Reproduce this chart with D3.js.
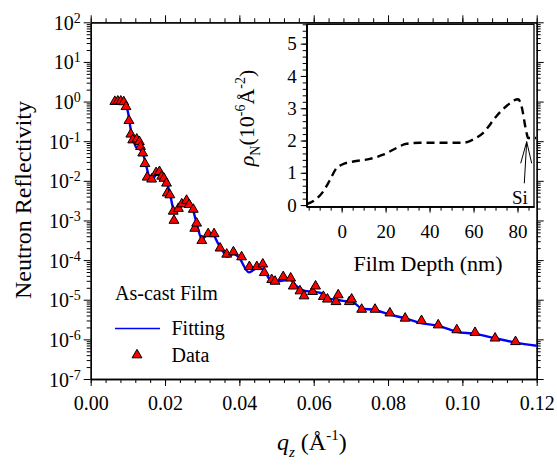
<!DOCTYPE html>
<html lang="en">
<head>
<meta charset="UTF-8">
<title>Neutron Reflectivity</title>
<script src="https://d3js.org/d3.v7.min.js"></script>
</head>
<body style="margin:0;background:#fff">
<svg width="557" height="465"></svg>
<script>
// measured data (q in 1/A, reflectivity)
const dataQ = [0.0065, 0.0073, 0.0081, 0.0089, 0.0095, 0.0103, 0.0108, 0.0113, 0.0124, 0.0131,
               0.0134, 0.0140, 0.0146, 0.0152, 0.0164, 0.0176, 0.0185, 0.0191, 0.0197, 0.0204,
               0.0206, 0.0213, 0.0222, 0.0224, 0.0236, 0.0245, 0.0258, 0.0265, 0.0276, 0.0280,
               0.0285, 0.0299, 0.0316, 0.0332, 0.0348, 0.0366, 0.0384, 0.0406, 0.0427, 0.0447,
               0.0463, 0.0467, 0.0487, 0.0496, 0.0518, 0.0538, 0.0545, 0.0563, 0.0574, 0.0597,
               0.0605, 0.0626, 0.0637, 0.0660, 0.0666, 0.0696, 0.0702, 0.0729, 0.0765, 0.0805,
               0.0846, 0.0890, 0.0935, 0.0985, 0.1034, 0.1088, 0.1143];
const dataR = [1.0, 1.02, 1.02, 0.98, 0.74, 0.33, 0.15, 0.107, 0.112, 0.097,
               0.073, 0.050, 0.027, 0.0123, 0.011, 0.016, 0.017, 0.013, 0.0115, 0.0087,
               0.0049, 0.0044, 0.0017, 0.0010, 0.0020, 0.0026, 0.0032, 0.0025, 0.0019, 0.00063,
               0.00085, 0.00031, 0.00046, 0.00046, 0.0002, 0.00014, 0.00016, 0.00012, 6.8e-5, 6.8e-5,
               7.9e-5, 4.8e-5, 3.2e-5, 2.9e-5, 3.8e-5, 3.5e-5, 2.2e-5, 1.66e-5, 1.24e-5, 1.6e-5,
               2.2e-5, 1.2e-5, 1.03e-5, 8.9e-6, 1.32e-5, 8.9e-6, 1.03e-5, 5.7e-6, 5.7e-6, 4.6e-6,
               3.4e-6, 2.95e-6, 2.3e-6, 1.73e-6, 1.48e-6, 1.07e-6, 8.7e-7];

// fitted curve
const fitQ = [0.0065, 0.0092, 0.0101, 0.0108, 0.0115, 0.0122, 0.0131, 0.0140, 0.0149, 0.0158,
              0.0167, 0.0179, 0.0191, 0.0204, 0.0213, 0.0222, 0.0230, 0.0242, 0.0258, 0.0272,
              0.0285, 0.0299, 0.0312, 0.0330, 0.0343, 0.0357, 0.0368, 0.0384, 0.0397, 0.0426,
              0.0447, 0.0464, 0.0482, 0.0496, 0.0514, 0.0536, 0.0554, 0.0574, 0.0595, 0.0617,
              0.0644, 0.0662, 0.0693, 0.0707, 0.0729, 0.0765, 0.0805, 0.0846, 0.0886, 0.0935,
              0.0985, 0.1034, 0.1088, 0.1144, 0.1200];
const fitR = [0.95, 0.91, 0.50, 0.19, 0.107, 0.071, 0.063, 0.050, 0.025, 0.0123,
              0.011, 0.016, 0.0155, 0.0095, 0.0049, 0.0020, 0.0016, 0.0022, 0.0027, 0.0022,
              0.00085, 0.00034, 0.00041, 0.00041, 0.00026, 0.00016, 0.000122, 0.000142, 0.000122, 4.9e-5,
              6.2e-5, 5.9e-5, 3.2e-5, 2.9e-5, 3.0e-5, 3.2e-5, 2.2e-5, 1.7e-5, 1.6e-5, 1.5e-5,
              1.05e-5, 1.0e-5, 8.9e-6, 8.5e-6, 6.0e-6, 5.5e-6, 4.2e-6, 3.4e-6, 2.6e-6, 2.2e-6,
              1.55e-6, 1.38e-6, 1.07e-6, 8.3e-7, 6.9e-7];

// SLD profile for the inset
const depth = [-15.9, -12.1, -8.4, -5.3, -2.3, 0, 5.3, 12.9, 18.9, 25,
               29.5, 35.6, 55.3, 59.8, 64.4, 70.5, 75, 80.3, 81.8, 84.1, 84.8, 88.5];
const rho = [0.03, 0.16, 0.42, 0.78, 1.15, 1.25, 1.35, 1.43, 1.56, 1.77,
             1.9, 1.93, 1.93, 2.03, 2.24, 2.76, 3.07, 3.28, 3.07, 2.24, 2.08, 2.08];

const xTicks = [0, 0.02, 0.04, 0.06, 0.08, 0.10, 0.12];
const yExponents = [-7, -6, -5, -4, -3, -2, -1, 0, 1, 2];
const insetXTicks = [0, 20, 40, 60, 80];
const insetYTicks = [0, 1, 2, 3, 4, 5];

const FONT = "Liberation Serif";

const svg = d3.select("svg");
const L = 90.7, R = 536.7, T = 22.3, B = 379;

const x = d3.scaleLinear().domain([0, 0.12]).range([L, R]);
const y = d3.scaleLog().domain([1e-7, 1e2]).range([B, T]);

// minor tick values
const xMinor = d3.range(0, 0.1201, 0.004);
const yMinor = [];
yExponents.slice(0, -1).forEach(e => {
    for (let k = 2; k <= 9; k++) yMinor.push(k * Math.pow(10, e));
});
const yMajor = yExponents.map(e => Math.pow(10, e));

function styleAxis(g) {
    g.attr("font-family", FONT);
    g.select(".domain").attr("stroke", "#000").attr("stroke-width", 1.3);
    g.selectAll(".tick line").attr("stroke", "#000").attr("stroke-width", 1);
    g.selectAll("text").attr("font-family", FONT).attr("fill", "#000");
}

// adds a text element in the chart font
function label(xp, yp, size) {
    return svg.append("text").attr("x", xp).attr("y", yp)
              .attr("font-family", FONT).attr("font-size", size).attr("fill", "#000");
}

// bottom
svg.append("g").attr("transform", `translate(0,${B})`)
   .call(d3.axisBottom(x).tickValues(xMinor).tickSize(4).tickFormat("").tickSizeOuter(0))
   .call(styleAxis);
svg.append("g").attr("transform", `translate(0,${B})`)
   .call(d3.axisBottom(x).tickValues(xTicks).tickSize(7).tickPadding(10).tickSizeOuter(0)
         .tickFormat(d3.format(".2f")))
   .call(styleAxis)
   .call(g => g.selectAll("text").attr("font-size", 20));
// top
svg.append("g").attr("transform", `translate(0,${T})`)
   .call(d3.axisTop(x).tickValues(xMinor).tickSize(4).tickFormat("").tickSizeOuter(0))
   .call(styleAxis);
svg.append("g").attr("transform", `translate(0,${T})`)
   .call(d3.axisTop(x).tickValues(xTicks).tickSize(7).tickFormat("").tickSizeOuter(0))
   .call(styleAxis);

// left
svg.append("g").attr("transform", `translate(${L},0)`)
   .call(d3.axisLeft(y).tickValues(yMinor).tickSize(4).tickFormat("").tickSizeOuter(0))
   .call(styleAxis);
const yAx = svg.append("g").attr("transform", `translate(${L},0)`)
   .call(d3.axisLeft(y).tickValues(yMajor).tickSize(7).tickPadding(3).tickSizeOuter(0).tickFormat(""))
   .call(styleAxis);
yAx.selectAll(".tick text").each(function(d) {
    const t = d3.select(this).attr("dy", "0.35em").attr("font-size", 20);
    t.append("tspan").text("10");
    t.append("tspan").attr("dy", "-0.5em").attr("font-size", 14).text(Math.round(Math.log10(d)));
});
// right
svg.append("g").attr("transform", `translate(${R},0)`)
   .call(d3.axisRight(y).tickValues(yMinor).tickSize(4).tickFormat("").tickSizeOuter(0))
   .call(styleAxis);
svg.append("g").attr("transform", `translate(${R},0)`)
   .call(d3.axisRight(y).tickValues(yMajor).tickSize(7).tickFormat("").tickSizeOuter(0))
   .call(styleAxis);

// fitted line
const fit = fitQ.map((q, i) => ({ q, r: fitR[i] }));
svg.append("path")
   .datum(fit)
   .attr("fill", "none")
   .attr("stroke", "#0000ff")
   .attr("stroke-width", 2.4)
   .attr("d", d3.line().x(d => x(d.q)).y(d => y(d.r)).curve(d3.curveMonotoneX));

// data triangles
const tri = d3.symbol().type(d3.symbolTriangle).size(42);
const pts = dataQ.map((q, i) => ({ q, r: dataR[i] }));
svg.append("g").selectAll("path")
   .data(pts)
   .join("path")
   .attr("transform", d => `translate(${x(d.q)},${y(d.r)})`)
   .attr("d", tri)
   .attr("fill", "#ff0000")
   .attr("stroke", "#000")
   .attr("stroke-width", 1);

// axis titles
label(0, 0, 24)
   .attr("transform", "translate(31,200) rotate(-90)")
   .attr("text-anchor", "middle")
   .text("Neutron Reflectivity");

const xt = label(277, 450, 24);
xt.append("tspan").attr("font-style", "italic").text("q");
xt.append("tspan").attr("dy", 7).attr("font-style", "italic").attr("font-size", 15).text("z");
xt.append("tspan").attr("dy", -7).text(" (Å");
xt.append("tspan").attr("dy", -10).attr("font-size", 15).text("-1");
xt.append("tspan").attr("dy", 10).text(")");

// legend
label(115, 300, 20).text("As-cast Film");
svg.append("line").attr("x1", 115).attr("x2", 160).attr("y1", 328.5).attr("y2", 328.5)
   .attr("stroke", "#0000ff").attr("stroke-width", 1.5);
label(171.5, 335, 20).text("Fitting");
svg.append("path").attr("transform", "translate(137,355)").attr("d", tri)
   .attr("fill", "#ff0000").attr("stroke", "#000").attr("stroke-width", 1);
label(171.5, 361.5, 20).text("Data");

// ---- inset ----
const iL = 306.7, iR = 534, iT = 24.3, iB = 206.7;
const ix = d3.scaleLinear().domain([-15.9, 87.5]).range([iL, iR]);
const iy = d3.scaleLinear().domain([-0.05, 5.6]).range([iB, iT]);

svg.append("rect").attr("x", iL).attr("y", iT).attr("width", iR - iL).attr("height", iB - iT)
   .attr("fill", "#fff").attr("stroke", "#000").attr("stroke-width", 1.3);

svg.append("g").attr("transform", `translate(0,${iB})`)
   .call(d3.axisBottom(ix).tickValues(d3.range(-15, 86, 5)).tickSize(4).tickFormat("").tickSizeOuter(0))
   .call(styleAxis);
svg.append("g").attr("transform", `translate(0,${iB})`)
   .call(d3.axisBottom(ix).tickValues(insetXTicks).tickSize(6).tickPadding(12).tickSizeOuter(0)
         .tickFormat(d3.format("d")))
   .call(styleAxis)
   .call(g => g.selectAll("text").attr("font-size", 19));
svg.append("g").attr("transform", `translate(${iL},0)`)
   .call(d3.axisLeft(iy).tickValues(d3.range(0, 5.61, 0.2)).tickSize(4).tickFormat("").tickSizeOuter(0))
   .call(styleAxis);
svg.append("g").attr("transform", `translate(${iL},0)`)
   .call(d3.axisLeft(iy).tickValues(insetYTicks).tickSize(6).tickPadding(4).tickSizeOuter(0)
         .tickFormat(d3.format("d")))
   .call(styleAxis)
   .call(g => g.selectAll("text").attr("font-size", 19));

const prof = depth.map((d, i) => ({ d, r: rho[i] }));
svg.append("path")
   .datum(prof)
   .attr("fill", "none")
   .attr("stroke", "#000")
   .attr("stroke-width", 2.4)
   .attr("stroke-dasharray", "8,5")
   .attr("d", d3.line().x(d => ix(d.d)).y(d => iy(d.r)).curve(d3.curveMonotoneX));

// Si annotation with open arrow
label(512, 204, 19).text("Si");
svg.append("path")
   .attr("d", "M524.3,183.3 L526.7,141.7 M520.7,163.3 L526.7,141.7 L531.7,163.3")
   .attr("fill", "none").attr("stroke", "#000").attr("stroke-width", 1);

label(428, 271, 22)
   .attr("text-anchor", "middle")
   .text("Film Depth (nm)");

const it = label(0, 0, 22)
   .attr("transform", "translate(254,118) rotate(-90)")
   .attr("text-anchor", "middle");
it.append("tspan").attr("font-style", "italic").text("ρ");
it.append("tspan").attr("dy", 6).attr("font-size", 14).text("N");
it.append("tspan").attr("dy", -6).text("(10");
it.append("tspan").attr("dy", -9).attr("font-size", 14).text("-6");
it.append("tspan").attr("dy", 9).text("Å");
it.append("tspan").attr("dy", -9).attr("font-size", 14).text("-2");
it.append("tspan").attr("dy", 9).text(")");
</script>
</body>
</html>
